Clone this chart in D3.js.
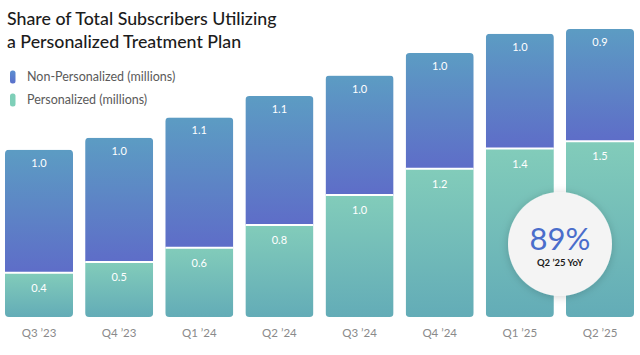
<!DOCTYPE html>
<html>
<head>
<meta charset="utf-8">
<script src="https://cdn.jsdelivr.net/npm/d3@7"></script>
<style>
  html, body { margin: 0; padding: 0; background: #fff; }
  svg { display: block; }
</style>
</head>
<body>
<svg id="chart" width="640" height="355"></svg>
<script>
const categories = ["Q3 \u201923", "Q4 \u201923", "Q1 \u201924", "Q2 \u201924", "Q3 \u201924", "Q4 \u201924", "Q1 \u201925", "Q2 \u201925"];
const personalized = [0.37, 0.46, 0.58, 0.77, 1.02, 1.24, 1.41, 1.47];
const nonPersonalized = [1.03, 1.04, 1.09, 1.08, 1.00, 0.97, 0.96, 0.94];
const seriesNames = ["Non-Personalized (millions)", "Personalized (millions)"];
const titleLines = ["Share of Total Subscribers Utilizing", "a Personalized Treatment Plan"];
const badgeValue = "89%";
const badgeLabel = "Q2 \u201925 YoY";

const svg = d3.select("#chart");
const font = "Lato, 'Open Sans', sans-serif";

const defs = svg.append("defs");
const gBlue = defs.append("linearGradient").attr("id", "gBlue").attr("x1", 0).attr("y1", 0).attr("x2", 0).attr("y2", 1);
gBlue.append("stop").attr("offset", "0%").attr("stop-color", "#5c9cc3");
gBlue.append("stop").attr("offset", "100%").attr("stop-color", "#5e6dc8");
const gGreen = defs.append("linearGradient").attr("id", "gGreen").attr("x1", 0).attr("y1", 0).attr("x2", 0).attr("y2", 1);
gGreen.append("stop").attr("offset", "0%").attr("stop-color", "#82ccba");
gGreen.append("stop").attr("offset", "100%").attr("stop-color", "#63acb7");
const gLegB = defs.append("linearGradient").attr("id", "gLegB").attr("x1", 0).attr("y1", 0).attr("x2", 0).attr("y2", 1);
gLegB.append("stop").attr("offset", "0%").attr("stop-color", "#5b8ed0");
gLegB.append("stop").attr("offset", "100%").attr("stop-color", "#5a6fcb");
const shadow = defs.append("filter").attr("id", "shadow").attr("x", "-30%").attr("y", "-30%").attr("width", "160%").attr("height", "160%");
shadow.append("feDropShadow").attr("dx", 0).attr("dy", 1).attr("stdDeviation", 4).attr("flood-color", "#000").attr("flood-opacity", 0.18);

// Title
svg.append("g").selectAll("text").data(titleLines).join("text")
  .attr("x", 7).attr("y", (d, i) => 25 + i * 23)
  .attr("font-family", font).attr("font-size", 17.8).attr("font-weight", 500)
  .attr("fill", "#1c1c1c").text(d => d);

// Legend
const legend = svg.append("g");
const legFills = ["url(#gLegB)", "#7ecfb8"];
seriesNames.forEach((n, i) => {
  const yy = 77 + i * 23;
  legend.append("rect").attr("x", 10).attr("y", yy - 6.5).attr("width", 5.5).attr("height", 13).attr("rx", 2.5).attr("fill", legFills[i]);
  legend.append("text").attr("x", 27).attr("y", yy + 4.2).attr("font-family", font).attr("font-size", 12.5)
    .attr("fill", "#5a5a5a").text(n);
});

// Scales
const x = d3.scaleBand().domain(categories).range([5, 634]).paddingInner(0.1515).paddingOuter(0);
const y = d3.scaleLinear().domain([0, 2.5]).range([317, 317 - 2.5 * 119.5]);

const bars = svg.append("g");
categories.forEach((c, i) => {
  const x0 = x(c), bw = x.bandwidth();
  const p = personalized[i], n = nonPersonalized[i];
  const clipId = "clip" + i;
  defs.append("clipPath").attr("id", clipId).append("rect")
    .attr("x", x0).attr("y", y(p + n)).attr("width", bw).attr("height", y(0) - y(p + n)).attr("rx", 4);
  const g = bars.append("g").attr("clip-path", `url(#${clipId})`);
  g.append("rect").attr("x", x0).attr("y", y(p + n)).attr("width", bw).attr("height", y(p) - y(p + n)).attr("fill", "url(#gBlue)");
  g.append("rect").attr("x", x0).attr("y", y(p)).attr("width", bw).attr("height", y(0) - y(p)).attr("fill", "url(#gGreen)");
  g.append("line").attr("x1", x0).attr("x2", x0 + bw).attr("y1", y(p)).attr("y2", y(p)).attr("stroke", "#fff").attr("stroke-width", 2);
  bars.append("text").attr("x", x0 + bw / 2).attr("y", y(p + n) + 17).attr("text-anchor", "middle")
    .attr("font-family", font).attr("font-size", 11).attr("fill", "#fff").text(n.toFixed(1));
  bars.append("text").attr("x", x0 + bw / 2).attr("y", y(p) + 19).attr("text-anchor", "middle")
    .attr("font-family", font).attr("font-size", 11).attr("fill", "#fff").text(p.toFixed(1));
});

// X axis labels
const xAxis = svg.append("g").attr("transform", `translate(0,${y(0)})`)
  .call(d3.axisBottom(x).tickSize(0).tickPadding(12));
xAxis.select(".domain").remove();
xAxis.selectAll("text").attr("font-family", font).attr("font-size", 11.5).attr("fill", "#8a8a8a");

// Badge
const badge = svg.append("g").attr("transform", "translate(560,244)");
badge.append("circle").attr("r", 52).attr("fill", "#f4f4f4").attr("filter", "url(#shadow)");
badge.append("text").attr("y", 6).attr("text-anchor", "middle").attr("font-family", font)
  .attr("font-size", 31).attr("fill", "#4a6dcb").text(badgeValue);
badge.append("text").attr("y", 22).attr("text-anchor", "middle").attr("font-family", font)
  .attr("font-size", 9.5).attr("font-weight", 700).attr("fill", "#1a1a1a").text(badgeLabel);
</script>
</body>
</html>
